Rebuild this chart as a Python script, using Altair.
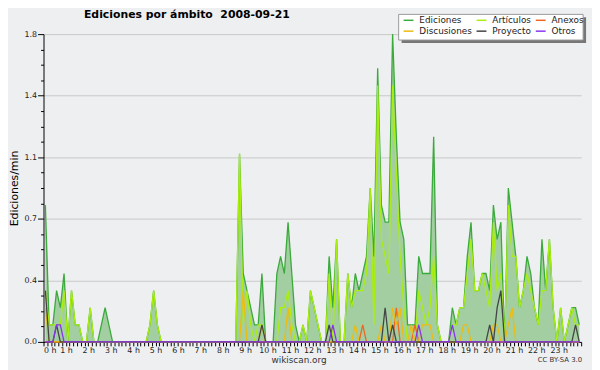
import altair as alt
import pandas as pd

# ---- data: edits per 10-minute bin (divide by 10 -> edits/min), 144 bins ----
ediciones = [
    8, 1, 1, 3, 2, 4, 0, 3, 1, 1, 0, 0,
    2, 0, 0, 1, 2, 1, 0, 0, 0, 0, 0, 0,
    0, 0, 0, 0, 1, 3, 1, 0, 0, 0, 0, 0,
    0, 0, 0, 0, 0, 0, 0, 0, 0, 0, 0, 0,
    0, 0, 0, 0, 11, 4, 3, 2, 1, 1, 4, 0,
    0, 0, 4, 5, 4, 7, 4, 1, 0, 1, 0, 3,
    2, 1, 0, 0, 5, 2, 6, 0, 0, 4, 2, 4,
    3, 4, 5, 9, 5, 16, 8, 7, 7, 18, 12, 7,
    6, 1, 1, 1, 5, 4, 4, 4, 12, 1, 0, 0,
    0, 2, 1, 2, 2, 5, 7, 3, 3, 4, 4, 3,
    8, 6, 7, 0, 9, 7, 5, 2, 3, 5, 4, 2,
    1, 6, 3, 6, 2, 0, 2, 0, 1, 2, 2, 1,
]
articulos = [
    3, 1, 1, 1, 1, 3, 0, 3, 1, 1, 0, 0,
    2, 0, 0, 0, 0, 0, 0, 0, 0, 0, 0, 0,
    0, 0, 0, 0, 1, 3, 1, 0, 0, 0, 0, 0,
    0, 0, 0, 0, 0, 0, 0, 0, 0, 0, 0, 0,
    0, 0, 0, 0, 11, 1, 3, 1, 0, 1, 1, 0,
    0, 0, 0, 2, 2, 3, 1, 0, 0, 1, 0, 3,
    2, 1, 0, 0, 4, 0, 6, 0, 0, 4, 2, 3,
    3, 3, 4, 9, 1, 15, 6, 5, 4, 15, 10, 5,
    2, 0, 0, 0, 3, 2, 1, 2, 5, 1, 0, 0,
    0, 1, 1, 2, 2, 4, 6, 3, 3, 4, 3, 2,
    7, 3, 4, 0, 8, 5, 5, 2, 3, 4, 3, 2,
    1, 3, 3, 6, 2, 0, 2, 0, 1, 2, 1, 1,
]
anexos = [
    0, 0, 0, 0, 0, 0, 0, 0, 0, 0, 0, 0,
    0, 0, 0, 0, 0, 0, 0, 0, 0, 0, 0, 0,
    0, 0, 0, 0, 0, 0, 0, 0, 0, 0, 0, 0,
    0, 0, 0, 0, 0, 0, 0, 0, 0, 0, 0, 0,
    0, 0, 0, 0, 0, 0, 0, 0, 0, 0, 0, 0,
    0, 0, 0, 0, 0, 0, 0, 0, 0, 0, 0, 0,
    0, 0, 0, 0, 0, 0, 0, 0, 0, 0, 0, 0,
    0, 1, 0, 0, 0, 0, 0, 0, 0, 0, 2, 0,
    0, 0, 0, 1, 0, 0, 0, 0, 0, 0, 0, 0,
    0, 0, 0, 0, 0, 0, 0, 0, 0, 0, 0, 0,
    0, 0, 0, 0, 0, 0, 0, 0, 0, 0, 0, 0,
    0, 0, 0, 0, 0, 0, 0, 0, 0, 0, 0, 0,
]
discusiones = [
    2, 0, 0, 0, 0, 0, 0, 0, 0, 0, 0, 0,
    0, 0, 0, 0, 0, 0, 0, 0, 0, 0, 0, 0,
    0, 0, 0, 0, 0, 0, 0, 0, 0, 0, 0, 0,
    0, 0, 0, 0, 0, 0, 0, 0, 0, 0, 0, 0,
    0, 0, 0, 0, 0, 3, 0, 0, 0, 0, 1, 0,
    0, 0, 0, 0, 0, 2, 0, 0, 0, 0, 0, 0,
    0, 0, 0, 0, 0, 0, 0, 0, 0, 0, 0, 1,
    0, 0, 0, 0, 0, 0, 1, 0, 0, 2, 1, 2,
    0, 0, 1, 0, 0, 1, 1, 1, 0, 0, 0, 0,
    0, 0, 0, 0, 1, 1, 0, 0, 0, 0, 0, 0,
    1, 1, 0, 0, 1, 2, 0, 0, 0, 0, 0, 0,
    0, 0, 0, 0, 0, 0, 0, 0, 0, 0, 0, 0,
]
proyecto = [
    3, 0, 0, 1, 0, 0, 0, 0, 0, 0, 0, 0,
    0, 0, 0, 0, 0, 0, 0, 0, 0, 0, 0, 0,
    0, 0, 0, 0, 0, 0, 0, 0, 0, 0, 0, 0,
    0, 0, 0, 0, 0, 0, 0, 0, 0, 0, 0, 0,
    0, 0, 0, 0, 0, 0, 0, 0, 0, 0, 1, 0,
    0, 0, 0, 0, 0, 0, 0, 0, 0, 0, 0, 0,
    0, 0, 0, 0, 1, 0, 0, 0, 0, 0, 0, 0,
    0, 0, 0, 0, 0, 0, 0, 2, 0, 1, 0, 0,
    0, 0, 0, 0, 0, 0, 0, 0, 0, 0, 0, 0,
    0, 0, 0, 0, 0, 0, 0, 0, 0, 0, 0, 1,
    0, 2, 3, 0, 0, 0, 0, 0, 0, 0, 0, 0,
    0, 0, 0, 0, 0, 0, 0, 0, 0, 0, 1, 0,
]
otros = [
    0, 0, 0, 1, 1, 0, 0, 0, 0, 0, 0, 0,
    0, 0, 0, 0, 0, 0, 0, 0, 0, 0, 0, 0,
    0, 0, 0, 0, 0, 0, 0, 0, 0, 0, 0, 0,
    0, 0, 0, 0, 0, 0, 0, 0, 0, 0, 0, 0,
    0, 0, 0, 0, 0, 0, 0, 0, 0, 0, 0, 0,
    0, 0, 0, 0, 0, 0, 0, 0, 0, 0, 0, 0,
    0, 0, 0, 0, 0, 1, 0, 0, 0, 0, 0, 0,
    0, 0, 0, 0, 0, 0, 0, 0, 0, 0, 0, 0,
    0, 0, 0, 0, 1, 0, 0, 0, 0, 0, 0, 0,
    0, 1, 0, 0, 0, 0, 0, 0, 0, 0, 0, 0,
    0, 0, 0, 0, 0, 0, 0, 0, 0, 0, 0, 0,
    0, 0, 0, 0, 0, 0, 0, 0, 0, 0, 0, 0,
]

series_names = ["Ediciones", "Artículos", "Anexos", "Discusiones", "Proyecto", "Otros"]
series_colors = ["#3aaa3a", "#aaee11", "#ee6622", "#eebb11", "#444444", "#8833ee"]
series_values = [ediciones, articulos, anexos, discusiones, proyecto, otros]
# legend fills column by column (2 rows x 3 columns)
legend_order = ["Ediciones", "Discusiones", "Artículos", "Proyecto", "Anexos", "Otros"]

title_text = "Ediciones por ámbito\u00a0\u00a02008-09-21"
y_title = "Ediciones/min"
footer_left = "wikiscan.org"
footer_right = "CC BY-SA 3.0"

FONT = "DejaVu Sans"
BG = "#eeeff1"

rows = []
for name, vals in zip(series_names, series_values):
    for k, v in enumerate(vals):
        rows.append({"t": (k + 0.5) / 6.0, "v": v / 10.0, "serie": name})
df = pd.DataFrame(rows)

color_of = dict(zip(series_names, series_colors))
legend_colors = [color_of[n] for n in legend_order]

x_ticks = [k / 6.0 for k in range(145)]
y_ticks = [round(i * 0.09, 2) for i in range(21)]
major_y = "abs(datum.value / 0.36 - round(datum.value / 0.36)) < 0.01"

x_enc = alt.X(
    "t:Q",
    scale=alt.Scale(domain=[0, 24], nice=False, zero=False),
    axis=alt.Axis(
        values=x_ticks,
        labelExpr="(abs(datum.value - round(datum.value)) < 0.01 && datum.value < 23.5) ? round(datum.value) + ' h' : ''",
        tickSize=4,
        labelPadding=1,
        labelOverlap=False,
        grid=False,
        domainColor="#000000",
        tickColor="#000000",
        labelFont=FONT,
        labelFontSize=8,
        labelColor="#222222",
        title="",
    ),
)
y_enc = alt.Y(
    "v:Q",
    scale=alt.Scale(domain=[0, 1.8], nice=False),
    axis=alt.Axis(
        values=y_ticks,
        labelExpr=f"({major_y}) ? format(datum.value, '.1f') : ''",
        tickSize={"condition": {"test": major_y, "value": 6}, "value": 3},
        grid=True,
        gridColor={"condition": {"test": major_y, "value": "#c8c8c8"}, "value": "transparent"},
        labelPadding=1,
        labelOverlap=False,
        domainColor="#000000",
        tickColor="#000000",
        labelFont=FONT,
        labelFontSize=8,
        labelColor="#222222",
        title=y_title,
        titleFont=FONT,
        titleFontSize=11,
        titleFontWeight="normal",
        titleColor="#000000",
        titleX=-29,
        titleBaseline="middle",
    ),
)

color_enc = alt.Color(
    "serie:N",
    scale=alt.Scale(domain=legend_order, range=legend_colors),
    title=None,
    legend=alt.Legend(
        orient="none",
        legendX=364,
        legendY=-20,
        columns=3,
        symbolType="stroke",
        symbolSize=100,
        symbolStrokeWidth=1.5,
        labelFont=FONT,
        labelFontSize=9,
        labelColor="#222222",
        labelOffset=5,
        padding=0,
        rowPadding=0,
        columnPadding=1,
    ),
)

area = alt.Chart(df[df.serie == "Ediciones"]).mark_area(color="#a2cea2", opacity=1).encode(x=x_enc, y=y_enc)

lines = []
for name in series_names:
    lines.append(
        alt.Chart(df)
        .transform_filter(alt.datum.serie == name)
        .mark_line(strokeWidth=1.3)
        .encode(x=x_enc, y=y_enc, color=color_enc)
    )

deco = pd.DataFrame({"k": [0]})
shadow = alt.Chart(deco).mark_rect(color="#777777").encode(
    x=alt.value(363), x2=alt.value(550), y=alt.value(-17), y2=alt.value(9)
)
box = alt.Chart(deco).mark_rect(fill="#ffffff", stroke="#999999", strokeWidth=1).encode(
    x=alt.value(360), x2=alt.value(547), y=alt.value(-20), y2=alt.value(6)
)
title_mark = alt.Chart(deco).mark_text(
    text=title_text, font=FONT, fontSize=11, fontWeight="bold", align="left", baseline="middle", color="#000000"
).encode(x=alt.value(41), y=alt.value(-19))
foot_l = alt.Chart(deco).mark_text(
    text=footer_left, font=FONT, fontSize=9, align="center", baseline="middle", color="#333333"
).encode(x=alt.value(259), y=alt.value(330))
foot_r = alt.Chart(deco).mark_text(
    text=footer_right, font=FONT, fontSize=7, align="right", baseline="middle", color="#333333"
).encode(x=alt.value(546), y=alt.value(330))

chart = alt.layer(area, *lines, shadow, box, title_mark, foot_l, foot_r).properties(
    width=545,
    height=312,
    background=BG,
    padding={"left": 36, "top": 24, "right": 11, "bottom": 26},
    autosize=alt.AutoSizeParams(type="none"),
).configure_view(stroke="transparent", fill=BG)

chart.save("out.html", embed_options={"renderer": "svg", "actions": False})
